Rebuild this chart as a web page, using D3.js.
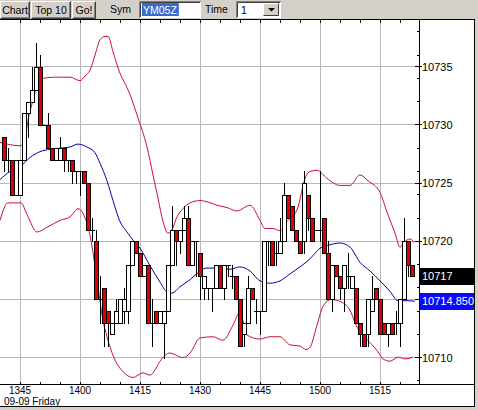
<!DOCTYPE html>
<html><head><meta charset="utf-8">
<script src="https://cdn.jsdelivr.net/npm/d3@7"></script>
<style>
html,body{margin:0;padding:0;background:#d4d0c8;overflow:hidden;}
svg{display:block;}
text{font-family:"Liberation Sans",Arial,sans-serif;}
</style></head><body>
<svg id="c" width="478" height="410"></svg>
<script>
// ---- data ----
const baseMinute = 13*60+40;          // time origin for offsets below
const firstBarMinute = 13*60+41;      // first candle 13:41, one bar per minute
const opens  = [10729,10727,10727,10724,10724,10727,10731,10732,10733,10735,10730,10730,10728,10727,10727,10728,10727,10727,10726,10726,10726,10725,10721,10720,10715,10716,10714,10712,10713,10713,10714,10714,10718,10720,10719,10717,10718,10713,10714,10713,10713,10714,10718,10721,10720,10721,10722,10718,10720,10719,10716,10716,10716,10716,10718,10716,10718,10717,10717,10715,10712,10713,10716,10714,10714,10714,10720,10720,10719,10719,10720,10724,10723,10721,10720,10720,10724,10722,10721,10721,10722,10719,10715,10718,10717,10716,10717,10716,10716,10713,10712,10712,10714,10716,10715,10713,10712,10713,10713,10713,10715,10720,10718];
const highs  = [10729,10728,10727,10727,10727,10731,10732,10735,10737,10736,10730,10731,10728,10728,10729,10728,10727,10727,10726,10726,10726,10725,10722,10721,10717,10716,10714,10713,10715,10715,10716,10718,10720,10720,10719,10718,10718,10715,10714,10714,10714,10718,10723,10721,10721,10723,10723,10720,10720,10719,10717,10716,10716,10718,10718,10718,10718,10718,10717,10715,10713,10717,10716,10715,10714,10720,10720,10720,10720,10722,10725,10724,10723,10721,10720,10726,10724,10722,10721,10726,10722,10720,10718,10718,10717,10718,10719,10717,10716,10713,10712,10715,10717,10716,10715,10713,10713,10713,10714,10715,10722,10720,10718];
const lows   = [10726,10726,10724,10724,10724,10727,10729,10732,10733,10730,10730,10728,10727,10727,10727,10726,10726,10725,10725,10724,10725,10721,10720,10715,10713,10711,10711,10712,10713,10713,10713,10713,10718,10719,10717,10717,10713,10711,10713,10713,10710,10714,10718,10718,10719,10721,10718,10718,10717,10715,10715,10715,10714,10716,10716,10715,10717,10716,10715,10711,10711,10713,10715,10713,10712,10714,10718,10718,10718,10719,10720,10722,10721,10720,10719,10719,10721,10720,10721,10720,10719,10715,10714,10717,10715,10714,10716,10716,10713,10711,10711,10711,10714,10715,10712,10712,10711,10712,10712,10711,10715,10717,10717];
const closes = [10727,10727,10724,10727,10727,10731,10732,10733,10735,10730,10730,10728,10727,10728,10728,10727,10727,10726,10726,10726,10725,10721,10721,10715,10715,10713,10713,10713,10714,10715,10715,10718,10720,10719,10717,10718,10713,10713,10713,10714,10714,10718,10721,10720,10721,10722,10718,10720,10720,10717,10717,10716,10716,10718,10716,10718,10718,10717,10715,10711,10713,10716,10715,10714,10714,10720,10720,10718,10719,10720,10724,10722,10721,10720,10719,10725,10722,10720,10721,10721,10719,10715,10718,10717,10716,10718,10717,10717,10713,10712,10711,10715,10715,10715,10712,10712,10713,10712,10713,10715,10720,10718,10717];

// Bollinger bands (minute offsets from 13:40, price)
const upperK = [0,2.5,5,6.25,7,8.25,9.5,10.75,13.75,17.5,20,21.25,22.5,23.75,25,26.25,27,28.25,29.5,32.5,34.5,36.75,38.25,39.5,40.75,42,43,44.25,45.75,47.5,50,51.75,54.25,56.75,59.25,62.5,65,66.25,68.25,70,71.75,74.25,76.5,77.5,79.25,81.75,85,87.5,90,92,95,96.75,98.75,100,101,102.5,103.5];
const upperV = [10728.5,10728.3,10728.2,10728.7,10730.4,10732.1,10733.7,10734.0,10734.1,10734.1,10733.8,10734.2,10734.7,10736.0,10737.3,10737.6,10737.6,10736.3,10734.9,10732.6,10730.6,10728.1,10725.7,10723.7,10721.7,10720.7,10721.0,10722.1,10722.8,10723.3,10723.5,10723.4,10723.1,10722.9,10722.6,10723.1,10721.8,10721.1,10721.1,10720.9,10721.7,10722.7,10725.6,10726.0,10726.1,10725.4,10724.8,10724.8,10725.7,10725.2,10724.2,10722.5,10720.7,10719.5,10719.9,10720.2,10719.9];
const midK = [0,2.5,5,7.5,10,12.5,15,17.5,19.5,21.75,23.75,25,26.75,28.25,30,31.75,33.25,35,37.5,40,41.75,43,45,47.5,49.5,51.5,54.25,57.5,60,62.5,65,67.5,70,72.5,75,77.5,80,82.5,85,87.5,90,92.5,95,97.5,99.5,101.75,103.75];
const midV = [10725.3,10726.0,10726.4,10727.2,10727.7,10727.9,10728.0,10728.1,10728.35,10728.1,10727.6,10726.7,10725.2,10723.5,10721.7,10720.8,10720.1,10719.4,10717.9,10716.5,10715.65,10715.55,10716.1,10716.7,10717.3,10717.7,10717.7,10717.6,10717.8,10717.45,10716.6,10716.4,10716.6,10717.2,10717.8,10718.5,10719.4,10719.7,10719.85,10719.5,10718.2,10717.45,10716.6,10715.7,10714.9,10714.9,10714.85];
const lowerK = [0,2,5.25,6.75,9.25,11.75,15,17.5,19.5,20.75,22.5,24.25,25.75,26.75,28.75,30.75,33.25,35.75,37.5,38.75,40,42.5,45.75,47.5,50,53.25,55.75,58.25,60,61.75,65,67.5,70,72.5,75,76.5,77.5,79.25,80.75,82.75,85.25,87.75,89,90.75,92.5,94.5,95.75,97.5,99.5,101.25,103.25];
const lowerV = [10721.8,10723.3,10723.3,10722.3,10720.8,10721.2,10721.8,10722.1,10722.8,10722.4,10720.5,10716.7,10713.2,10711.8,10709.8,10708.8,10708.3,10708.7,10708.5,10708.95,10709.7,10710.4,10710.0,10710.4,10711.7,10711.8,10711.5,10712.8,10713.9,10711.95,10711.6,10711.8,10711.8,10711.1,10711.0,10710.7,10710.9,10712.8,10714.4,10715.0,10714.8,10713.9,10712.8,10711.9,10711.3,10710.5,10709.9,10709.7,10710.05,10709.9,10710.05];

const xTickLabels = ["1345","1400","1415","1430","1445","1500","1515"];
const yTickValues = [10710,10715,10720,10725,10730,10735];
const dateLabel = "09-09 Friday";
const symbol = "YM05Z";
const timeFrame = "1";

// ---- layout ----
const svg = d3.select("#c");
const plotL = 0, plotR = 419, plotT = 20, plotB = 385, panelR = 474, footB = 406;
const x = d3.scaleLinear().domain([baseMinute, baseMinute + 104.75]).range([plotL, plotR]);
const y = d3.scaleLinear().domain([10707.655, 10739.01]).range([plotB, plotT]);
const px = v => Math.floor(v) + 0.5;

// toolbar
const tb = svg.append("g");
function button(x0, w, label) {
  tb.append("rect").attr("x", x0).attr("y", 1).attr("width", w).attr("height", 17).attr("fill", "#d4d0c8");
  tb.append("path").attr("d", `M${x0+0.5},${17.5}V1.5H${x0+w-0.5}`).attr("stroke", "#fff").attr("fill", "none");
  tb.append("path").attr("d", `M${x0+1.5},${17.5}H${x0+w-1.5}V2.5`).attr("stroke", "#808080").attr("fill", "none");
  tb.append("path").attr("d", `M${x0+0.5},${18.5}H${x0+w-0.5}V1.5`).attr("stroke", "#404040").attr("fill", "none");
  tb.append("text").attr("x", x0 + w/2).attr("y", 14).attr("text-anchor", "middle").attr("font-size", 10.5).attr("fill", "#000").text(label);
}
button(0, 30, "Chart");
button(31, 40, "Top 10");
button(72, 24, "Go!");
tb.append("text").attr("x", 110).attr("y", 13).attr("font-size", 10.5).text("Sym");
function field(x0, w) {
  tb.append("rect").attr("x", x0).attr("y", 1).attr("width", w).attr("height", 17).attr("fill", "#fff");
  tb.append("path").attr("d", `M${x0+0.5},${18}V1.5H${x0+w}`).attr("stroke", "#808080").attr("fill", "none");
  tb.append("path").attr("d", `M${x0+1.5},${17}V2.5H${x0+w-1}`).attr("stroke", "#404040").attr("fill", "none");
}
field(139, 62);
const selRect = tb.append("rect").attr("x", 142).attr("y", 3).attr("width", 34).attr("height", 13).attr("fill", "#3a6ccc");
const symText = tb.append("text").attr("x", 143).attr("y", 14).attr("font-size", 10.5).attr("fill", "#fff").text(symbol);
selRect.attr("width", Math.max(34, symText.node().getComputedTextLength() + 3));
tb.append("text").attr("x", 205).attr("y", 13).attr("font-size", 10.5).text("Time");
field(236, 45);
tb.append("text").attr("x", 241).attr("y", 14).attr("font-size", 10.5).text(timeFrame);
tb.append("rect").attr("x", 263).attr("y", 3).attr("width", 16).attr("height", 13).attr("fill", "#d4d0c8");
tb.append("path").attr("d", "M263.5,15.5V3.5H278.5").attr("stroke", "#fff").attr("fill", "none");
tb.append("path").attr("d", "M263.5,15.5H278.5V3.5").attr("stroke", "#404040").attr("fill", "none");
tb.append("path").attr("d", "M268,8H275L271.5,11.5Z").attr("fill", "#000");

// chart background
svg.append("rect").attr("x", 0).attr("y", plotT).attr("width", panelR).attr("height", footB - plotT).attr("fill", "#fff");

// grid
const grid = svg.append("g").attr("stroke", "#b8b8b8").attr("stroke-width", 1);
yTickValues.forEach(v => grid.append("line").attr("x1", plotL).attr("x2", plotR).attr("y1", px(y(v))).attr("y2", px(y(v))));
const tickMinutes = xTickLabels.map(s => +s.slice(0,2)*60 + +s.slice(2));
tickMinutes.forEach(m => grid.append("line").attr("x1", px(x(m))).attr("x2", px(x(m))).attr("y1", plotT).attr("y2", plotB));

// minor x ticks on top and bottom every 5 minutes
const minorMin = d3.range(baseMinute + 5, baseMinute + 105, 5);
const tk = svg.append("g").attr("stroke", "#000");
minorMin.forEach(m => {
  tk.append("line").attr("x1", px(x(m))).attr("x2", px(x(m))).attr("y1", plotT).attr("y2", plotT + 3);
  tk.append("line").attr("x1", px(x(m))).attr("x2", px(x(m))).attr("y1", plotB - 3).attr("y2", plotB);
});

// plot clip
svg.append("clipPath").attr("id", "clip").append("rect").attr("x", plotL).attr("y", plotT + 1).attr("width", plotR - plotL).attr("height", plotB - plotT - 1);
const plot = svg.append("g").attr("clip-path", "url(#clip)");

// bands
const lineGen = d3.line().x(d => x(baseMinute + d[0])).y(d => y(d[1])).curve(d3.curveMonotoneX);
plot.append("path").attr("d", lineGen(upperK.map((k, i) => [k, upperV[i]]))).attr("fill", "none").attr("stroke", "#cc1133").attr("stroke-width", 1);
plot.append("path").attr("d", lineGen(lowerK.map((k, i) => [k, lowerV[i]]))).attr("fill", "none").attr("stroke", "#cc1133").attr("stroke-width", 1);
plot.append("path").attr("d", lineGen(midK.map((k, i) => [k, midV[i]]))).attr("fill", "none").attr("stroke", "#0000b0").attr("stroke-width", 1);

// candles
const bars = opens.map((o, i) => ({t: firstBarMinute + i, o, h: highs[i], l: lows[i], c: closes[i]}));
const cg = plot.append("g");
bars.forEach(b => {
  const cx = Math.round(x(b.t));
  cg.append("line").attr("x1", cx + 0.5).attr("x2", cx + 0.5).attr("y1", Math.round(y(b.h))).attr("y2", Math.round(y(b.l)) + 1).attr("stroke", "#000");
  const top = Math.round(y(Math.max(b.o, b.c))), bot = Math.round(y(Math.min(b.o, b.c)));
  if (b.o === b.c) {
    cg.append("line").attr("x1", cx - 2).attr("x2", cx + 3).attr("y1", top + 0.5).attr("y2", top + 0.5).attr("stroke", "#000");
  } else {
    cg.append("rect").attr("x", cx - 1.5).attr("y", top + 0.5).attr("width", 4).attr("height", bot - top)
      .attr("fill", b.c < b.o ? "#e00000" : "#fff").attr("stroke", "#000");
  }
});

// frame lines
const fr = svg.append("g").attr("stroke", "#000").attr("fill", "none");
fr.append("line").attr("x1", 0).attr("x2", panelR + 1).attr("y1", 19.5).attr("y2", 19.5);
fr.append("line").attr("x1", plotR + 0.5).attr("x2", plotR + 0.5).attr("y1", plotT).attr("y2", plotB);
fr.append("line").attr("x1", 0).attr("x2", panelR).attr("y1", plotB - 0.5).attr("y2", plotB - 0.5);
fr.append("line").attr("x1", panelR + 0.5).attr("x2", panelR + 0.5).attr("y1", plotT).attr("y2", footB + 1);
fr.append("line").attr("x1", 0).attr("x2", panelR + 1).attr("y1", footB + 0.5).attr("y2", footB + 0.5);

// last price and MA value boxes positions
const lastClose = closes[closes.length - 1];
const lastMA = midV[midV.length - 1];
const yc = Math.round(y(lastClose)), ym = Math.round(y(lastMA));
const boxes = [[yc - 8, yc + 9], [ym - 8, ym + 9]];

// right axis ticks: minor at even values, major with labels every 5
const ax = svg.append("g");
d3.range(10708, 10739, 2).forEach(v => {
  ax.append("line").attr("x1", plotR - 2).attr("x2", plotR).attr("y1", px(y(v))).attr("y2", px(y(v))).attr("stroke", "#000");
});
yTickValues.forEach(v => {
  ax.append("line").attr("x1", plotR - 4).attr("x2", plotR + 3).attr("y1", px(y(v))).attr("y2", px(y(v))).attr("stroke", "#000");
  const ty = y(v);
  const hidden = boxes.some(([a, b]) => ty + 5 > a && ty - 5 < b);
  if (!hidden) ax.append("text").attr("x", plotR + 3).attr("y", ty + 4).attr("font-size", 11).attr("fill", "#000").text(v);
});

ax.append("rect").attr("x", plotR + 1).attr("y", yc - 8).attr("width", panelR - plotR - 1).attr("height", 17).attr("fill", "#000");
ax.append("text").attr("x", plotR + 3).attr("y", yc + 4).attr("font-size", 11).attr("fill", "#fff").text(lastClose);
ax.append("rect").attr("x", plotR + 1).attr("y", ym - 8).attr("width", panelR - plotR - 1).attr("height", 17).attr("fill", "#0a0aff");
ax.append("text").attr("x", plotR + 3).attr("y", ym + 4).attr("font-size", 11).attr("fill", "#fff").text(lastMA.toFixed(3));

// x labels
const xl = svg.append("g");
tickMinutes.forEach((m, i) => {
  xl.append("text").attr("x", x(m)).attr("y", 394).attr("text-anchor", "middle").attr("font-size", 10).attr("fill", "#000").text(xTickLabels[i]);
});
xl.append("text").attr("x", 4).attr("y", 404.5).attr("font-size", 10).attr("fill", "#000").text(dateLabel);
</script>
</body></html>
